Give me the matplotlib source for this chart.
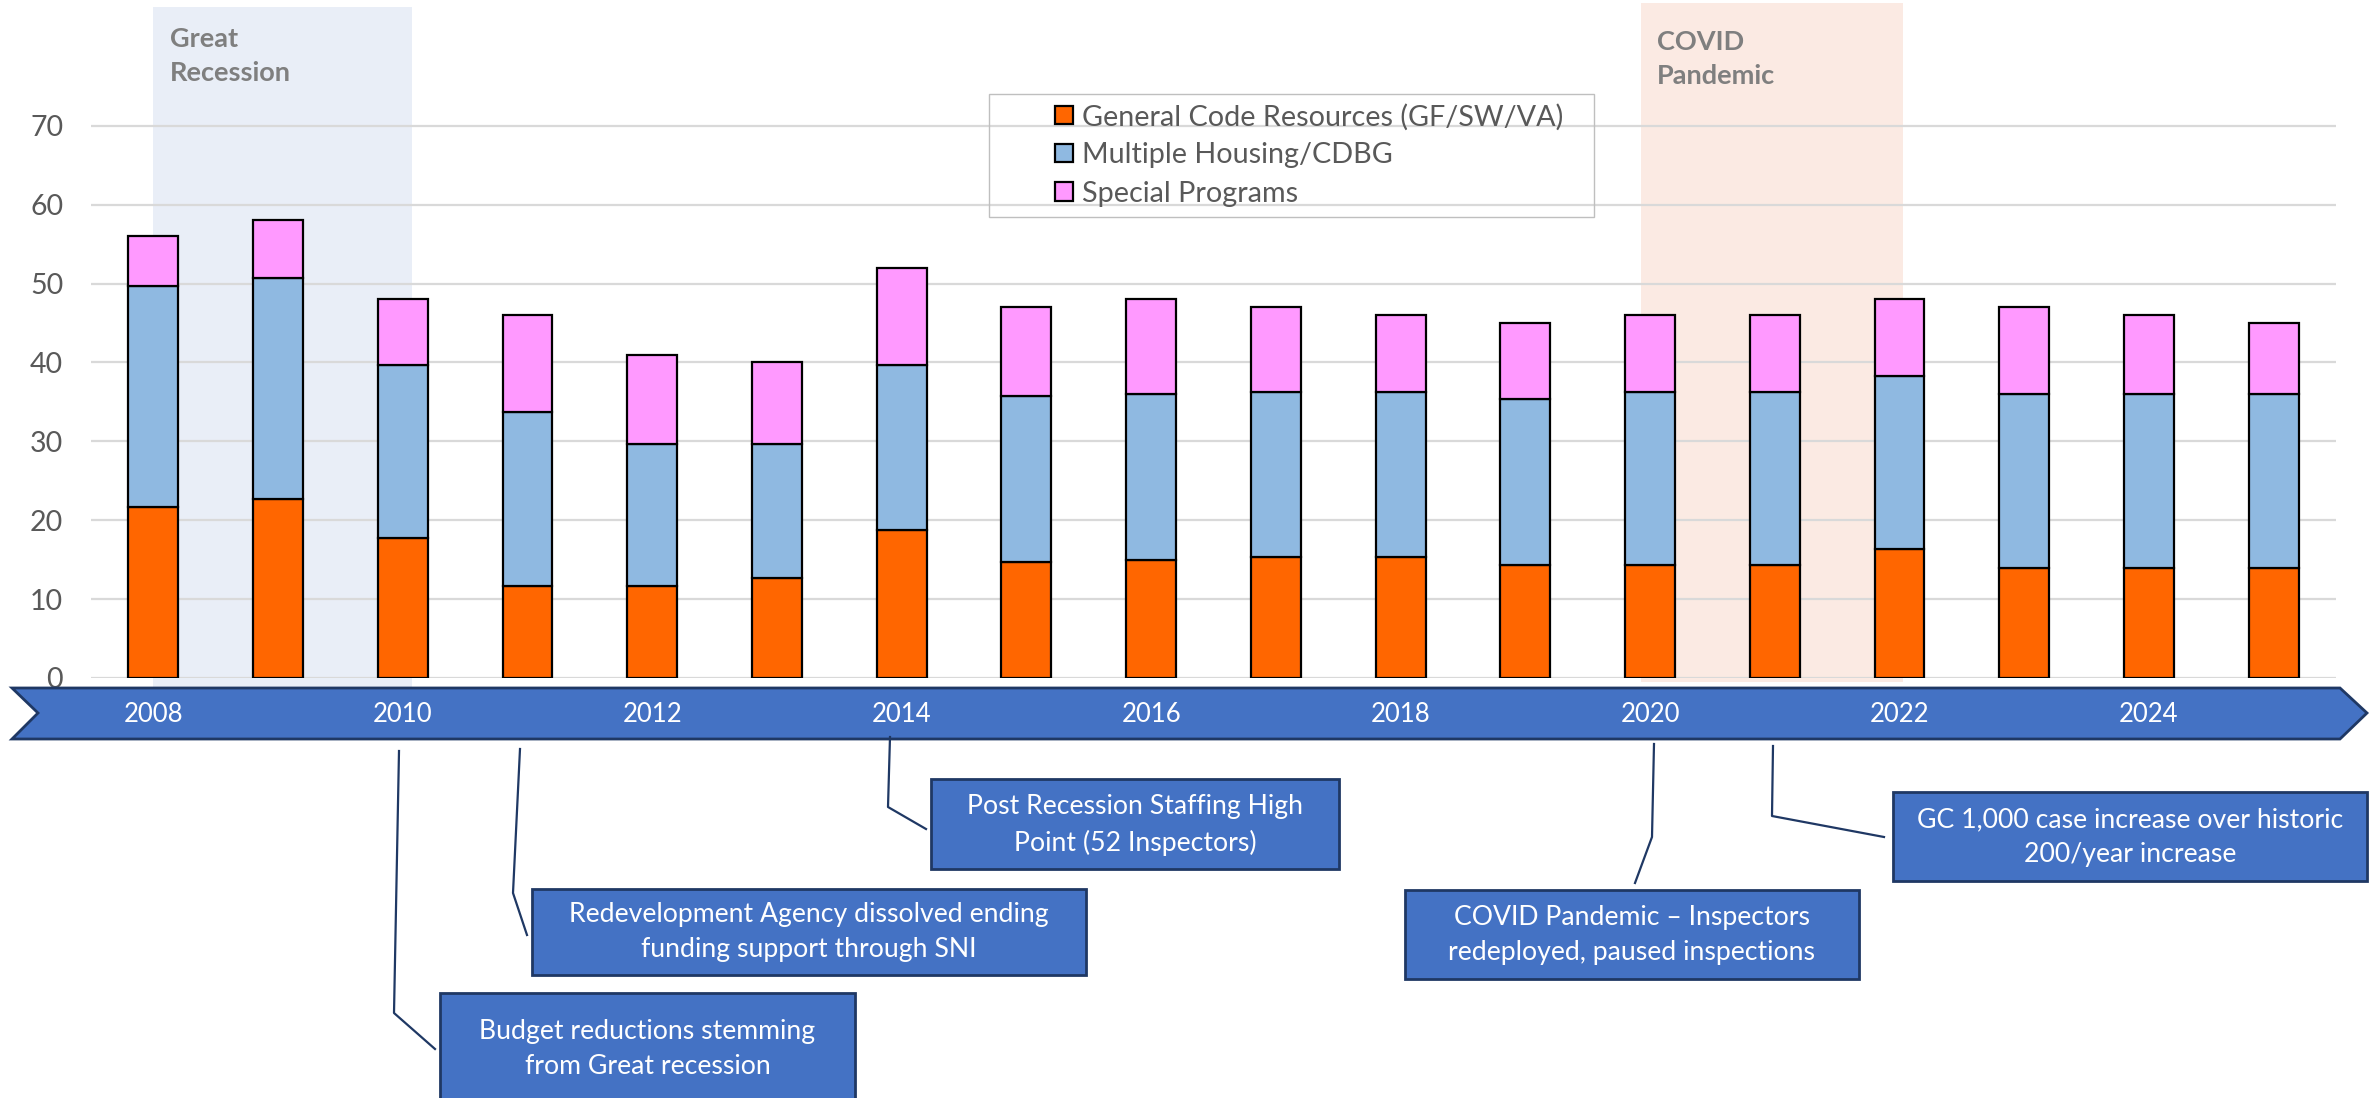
import matplotlib
matplotlib.use("Agg")
import matplotlib.pyplot as plt
import matplotlib.transforms as mtrans
from matplotlib.patches import Patch, Rectangle, Polygon
from matplotlib.lines import Line2D

plt.rcParams['font.family'] = ['Lato', 'DejaVu Sans']

# data (inspectors)
years = list(range(2008, 2026))
general_code = [21.7, 22.7, 17.7, 11.7, 11.7, 12.7, 18.7, 14.7, 15.0, 15.3,
                15.3, 14.3, 14.3, 14.3, 16.3, 14.0, 14.0, 14.0]
multiple_housing = [28, 28, 22, 22, 18, 17, 21, 21, 21, 21,
                    21, 21, 22, 22, 22, 22, 22, 22]
special_programs = [6.3, 7.3, 8.3, 12.3, 11.3, 10.3, 12.3, 11.3, 12.0, 10.7,
                    9.7, 9.7, 9.7, 9.7, 9.7, 11.0, 10.0, 9.0]
series_names = ["General Code Resources (GF/SW/VA)", "Multiple Housing/CDBG", "Special Programs"]
year_labels = [2008, 2010, 2012, 2014, 2016, 2018, 2020, 2022, 2024]
recession_years = (2008, 2010.07)
covid_years = (2019.93, 2022.03)

ORANGE = '#FF6600'
BLUE = '#8FB9E1'
PINK = '#FF99FF'
BANNER = '#4472C4'
NAVY = '#1F3864'

W, H = 2379, 1098
fig = plt.figure(figsize=(W / 100, H / 100), dpi=100)


def fx(x):
    return x / W


def fy(y):
    return 1 - y / H


ax = fig.add_axes([fx(91), fy(678), (2336 - 91) / W, (678 - 62.6) / H])
xs = [y - years[0] for y in years]
stack2 = [a + b for a, b in zip(general_code, multiple_housing)]
bar_kw = dict(width=0.4, edgecolor='black', linewidth=1.6, zorder=3)
ax.bar(xs, general_code, color=ORANGE, **bar_kw)
ax.bar(xs, multiple_housing, bottom=general_code, color=BLUE, **bar_kw)
ax.bar(xs, special_programs, bottom=stack2, color=PINK, **bar_kw)

ax.set_xlim(-0.5, len(years) - 0.5)
ax.set_ylim(0, 78)
ax.set_yticks(range(0, 80, 10))
ax.set_xticks([])
ax.grid(axis='y', color='#D9D9D9', lw=1.6, zorder=2)
for s in ax.spines.values():
    s.set_visible(False)
ax.tick_params(axis='y', length=0, pad=20, labelsize=20.5, labelcolor='#595959')

# shaded periods (behind the bars)
blend = mtrans.blended_transform_factory(ax.transData, fig.transFigure)
ax.add_patch(Rectangle((recession_years[0] - years[0], fy(687)), recession_years[1] - recession_years[0],
                       (687 - 7) / H, transform=blend, facecolor='#E9EEF7',
                       lw=0, zorder=1, clip_on=False))
ax.add_patch(Rectangle((covid_years[0] - years[0], fy(682)), covid_years[1] - covid_years[0],
                       (682 - 3) / H, transform=blend, facecolor='#FBEAE3',
                       lw=0, zorder=1, clip_on=False))
fig.text(fx(170), fy(56), "Great\nRecession", fontsize=19.5, fontweight='bold', color='#7F7F7F',
         va='center', ha='left', linespacing=1.5)
fig.text(fx(1657), fy(59), "COVID\nPandemic", fontsize=19.5, fontweight='bold', color='#7F7F7F',
         va='center', ha='left', linespacing=1.5)

# legend
fig.add_artist(Rectangle((fx(989), fy(217)), (1594 - 989) / W, (217 - 94) / H,
                         transform=fig.transFigure, fill=False, edgecolor='#BFBFBF', lw=1))
handles = [Patch(facecolor=c, edgecolor='black', lw=1.6) for c in (ORANGE, BLUE, PINK)]
ax.legend(handles, series_names, loc='center left', bbox_to_anchor=(fx(1041), fy(155)),
          bbox_transform=fig.transFigure, frameon=False, borderpad=0, fontsize=20.7,
          handlelength=0.6, handleheight=0.6, handletextpad=0.32, labelspacing=0.42,
          labelcolor='#595959')

# timeline banner
banner = [(12, 688), (2340, 688), (2367, 713), (2340, 739), (12, 739), (38, 713)]
fig.add_artist(Polygon([(fx(a), fy(b)) for a, b in banner], closed=True, transform=fig.transFigure,
                       facecolor=BANNER, edgecolor=NAVY, lw=2))
for yr in year_labels:
    fig.text(yr - years[0], fy(714), str(yr), transform=blend, color='white', fontsize=18.5,
             ha='center', va='center')

# callouts
callouts = [
    ("Budget reductions stemming\nfrom Great recession", (440, 993, 855, 1115),
     [(399, 751), (394, 1013), (435, 1049)], 1049),
    ("Redevelopment Agency dissolved ending\nfunding support through SNI", (532, 889, 1086, 975),
     [(520, 749), (513, 893), (527, 935)], 932),
    ("Post Recession Staffing High\nPoint (52 Inspectors)", (931, 779, 1339, 869),
     [(890, 737), (888, 807), (926, 829)], 825),
    ("COVID Pandemic \u2013 Inspectors\nredeployed, paused inspections", (1405, 890, 1859, 979),
     [(1654, 744), (1652, 837), (1635, 883)], 935),
    ("GC 1,000 case increase over historic\n200/year increase", (1893, 792, 2367, 881),
     [(1773, 746), (1772, 816), (1884, 837)], 837),
]
for text, (x0, y0, x1, y1), pts, ty in callouts:
    fig.add_artist(Line2D([fx(p[0]) for p in pts], [fy(p[1]) for p in pts], transform=fig.transFigure,
                          color=NAVY, lw=1.6))
    fig.add_artist(Rectangle((fx(x0), fy(y1)), (x1 - x0) / W, (y1 - y0) / H, transform=fig.transFigure,
                             facecolor=BANNER, edgecolor=NAVY, lw=2))
    fig.text(fx((x0 + x1) / 2), fy(ty), text, color='white', fontsize=19.2, ha='center', va='center',
             multialignment='center', linespacing=1.5)

fig.savefig("out.png", dpi=100)
